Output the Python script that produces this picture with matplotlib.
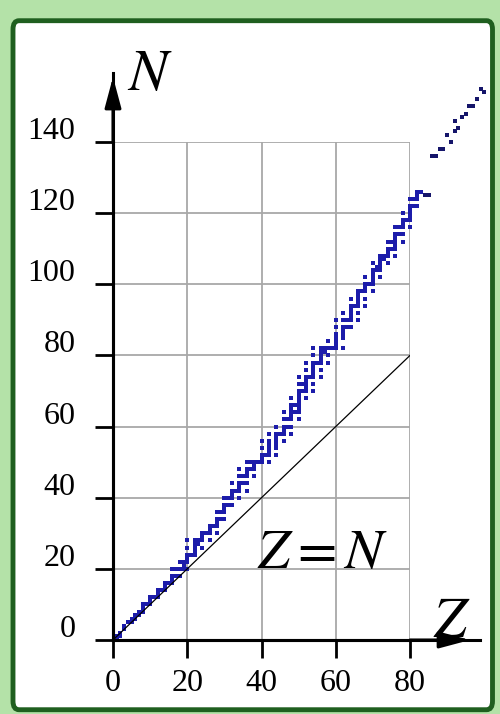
import matplotlib.pyplot as plt
from matplotlib.patches import FancyBboxPatch
from matplotlib.transforms import ScaledTranslation

plt.rcParams['mathtext.fontset'] = 'stix'
plt.rcParams['font.family'] = ['Liberation Serif', 'DejaVu Serif']

# neutron numbers of the stable nuclides, element by element (Z = 1..83)
n_by_z = [
    [0, 1], [1, 2], [3, 4], [5], [5, 6], [6, 7], [7, 8], [8, 9, 10], [10],
    [10, 11, 12], [12], [12, 13, 14], [14], [14, 15, 16], [16], [16, 17, 18, 20],
    [18, 20], [18, 20, 22], [20, 21, 22], [20, 22, 23, 24, 26, 28], [24],
    [24, 25, 26, 27, 28], [27, 28], [26, 28, 29, 30], [30], [28, 30, 31, 32], [32],
    [30, 32, 33, 34, 36], [34, 36], [34, 36, 37, 38, 40], [38, 40],
    [38, 40, 41, 42, 44], [42], [40, 42, 43, 44, 46, 48], [44, 46],
    [42, 44, 46, 47, 48, 50], [48, 50], [46, 48, 49, 50], [50], [50, 51, 52, 54, 56],
    [52], [50, 52, 53, 54, 55, 56, 58], [], [52, 54, 55, 56, 57, 58, 60], [58],
    [56, 58, 59, 60, 62, 64], [60, 62], [58, 60, 62, 63, 64, 65, 66, 68], [64, 66],
    [62, 64, 65, 66, 67, 68, 69, 70, 72, 74], [70, 72],
    [68, 70, 71, 72, 73, 74, 76, 78], [74], [70, 72, 74, 75, 76, 77, 78, 80, 82],
    [78], [74, 76, 78, 79, 80, 81, 82], [81, 82], [78, 80, 82, 84], [82],
    [82, 83, 84, 85, 86, 88, 90], [], [82, 85, 86, 87, 88, 90, 92], [88, 90],
    [88, 90, 91, 92, 93, 94, 96], [94], [90, 92, 94, 95, 96, 97, 98], [98],
    [94, 96, 98, 99, 100, 102], [100], [98, 100, 101, 102, 103, 104, 106],
    [104, 105], [102, 104, 105, 106, 107, 108], [107, 108], [106, 108, 109, 110, 112],
    [110, 112], [108, 110, 111, 112, 113, 114, 116], [114, 116],
    [112, 114, 116, 117, 118, 120], [118], [116, 118, 119, 120, 121, 122, 124],
    [122, 124], [122, 124, 125, 126], [126],
]

# long-lived nuclides of the heavier elements
heavy_z = [84, 85, 86, 87, 88, 89, 90, 91, 92, 92, 93, 94, 95, 96, 97, 98, 99, 100]
heavy_n = [125, 125, 136, 136, 138, 138, 142, 140, 143, 146, 144, 147, 148, 150, 150, 152, 155, 154]

line_z = [0, 80]
x_ticks = [0, 20, 40, 60, 80]
y_ticks = [0, 20, 40, 60, 80, 100, 120, 140]

fig = plt.figure(figsize=(5, 7.14), dpi=100, facecolor='#b4e2a8')
frame = FancyBboxPatch((0.026, 0.006), 0.959, 0.965, boxstyle='round,pad=0,rounding_size=0.012',
                       transform=fig.transFigure, facecolor='white', edgecolor='#1f5f1f',
                       linewidth=3.5, zorder=-1)
fig.patches.append(frame)

ax = fig.add_axes([113 / 500, 74 / 714, 297 / 500, 498 / 714])
ax.patch.set_alpha(0)
ax.set_xlim(0, 80)
ax.set_ylim(0, 140)
ax.set_xticks(x_ticks)
ax.set_yticks(y_ticks)
ax.grid(True, color='#a8a8a8', lw=1.3)
ax.set_axisbelow(True)
for s in ['top', 'right']:
    ax.spines[s].set_visible(False)
for s in ['left', 'bottom']:
    ax.spines[s].set_linewidth(2.2)
ax.tick_params(direction='out', length=13, width=2, labelsize=23, colors='black')
ax.tick_params(axis='y', pad=14)
ax.tick_params(axis='x', pad=8)
shift = ScaledTranslation(0, 0.14, fig.dpi_scale_trans)
for lab in ax.get_yticklabels():
    lab.set_transform(lab.get_transform() + shift)

# nuclides
for z, ns in enumerate(n_by_z, start=1):
    ax.plot([z] * len(ns), ns, ls='none', marker='s', ms=2.5, mew=0,
            color='#1c1caa', clip_on=False)
ax.plot(heavy_z, heavy_n, ls='none', marker='s', ms=2.3, mew=0, color='#15156a', clip_on=False)

ax.plot(line_z, line_z, color='black', lw=0.9)

# axis arrows
ax.plot([0, 98.8], [0, 0], color='black', lw=2.2, clip_on=False)
ax.plot([0, 0], [0, 159.4], color='black', lw=2.2, clip_on=False)
head = dict(arrowstyle='-|>,head_length=0.75,head_width=0.2', color='black', lw=2.2,
            mutation_scale=25, shrinkA=0, shrinkB=0)
ax.annotate('', xy=(96.2, 0), xytext=(80, 0), arrowprops=head, annotation_clip=False)
ax.annotate('', xy=(0, 158.3), xytext=(0, 140), arrowprops=head, annotation_clip=False)

ax.text(3.8, 154.6, '$N$', fontsize=42, ha='left', va='baseline')
ax.text(86.2, 0.8, '$Z$', fontsize=42, ha='left', va='baseline')
ax.text(38.8, 20.2, '$Z=N$', fontsize=41, ha='left', va='baseline')

fig.savefig('out.png', dpi=100, facecolor=fig.get_facecolor())
